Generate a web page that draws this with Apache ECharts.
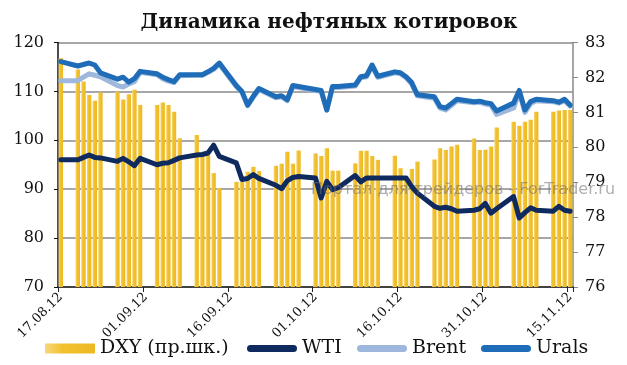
<!DOCTYPE html>
<html><head><meta charset="utf-8">
<script src="https://cdn.jsdelivr.net/npm/echarts@6/dist/echarts.min.js"></script>
<style>html,body{margin:0;padding:0;background:#fff}#c{width:627px;height:365px}</style>
</head><body><div id="c"></div>
<script>
// calendar days 17.08.12 .. 15.11.12 (weekends have no values)
var dates = ["17.08.12","18.08.12","19.08.12","20.08.12","21.08.12","22.08.12","23.08.12","24.08.12","25.08.12","26.08.12",
"27.08.12","28.08.12","29.08.12","30.08.12","31.08.12","01.09.12","02.09.12","03.09.12","04.09.12","05.09.12",
"06.09.12","07.09.12","08.09.12","09.09.12","10.09.12","11.09.12","12.09.12","13.09.12","14.09.12","15.09.12",
"16.09.12","17.09.12","18.09.12","19.09.12","20.09.12","21.09.12","22.09.12","23.09.12","24.09.12","25.09.12",
"26.09.12","27.09.12","28.09.12","29.09.12","30.09.12","01.10.12","02.10.12","03.10.12","04.10.12","05.10.12",
"06.10.12","07.10.12","08.10.12","09.10.12","10.10.12","11.10.12","12.10.12","13.10.12","14.10.12","15.10.12",
"16.10.12","17.10.12","18.10.12","19.10.12","20.10.12","21.10.12","22.10.12","23.10.12","24.10.12","25.10.12",
"26.10.12","27.10.12","28.10.12","29.10.12","30.10.12","31.10.12","01.11.12","02.11.12","03.11.12","04.11.12",
"05.11.12","06.11.12","07.11.12","08.11.12","09.11.12","10.11.12","11.11.12","12.11.12","13.11.12","14.11.12",
"15.11.12"];
var _ = null;
var dxy = [82.55,_,_,82.23,81.88,81.50,81.33,81.57,_,_,
81.59,81.37,81.52,81.65,81.21,_,_,81.21,81.28,81.21,
81.02,80.26,_,_,80.35,79.73,79.78,79.26,78.83,_,
_,79.01,79.01,79.30,79.44,79.32,_,_,79.47,79.53,
79.87,79.53,79.91,_,_,79.82,79.75,79.97,79.33,79.33,
_,_,79.54,79.90,79.90,79.75,79.64,_,_,79.76,
79.40,79.10,79.38,79.59,_,_,79.65,79.97,79.92,80.02,
80.07,_,_,80.25,79.92,79.93,80.02,80.57,_,_,
80.73,80.62,80.73,80.79,81.02,_,_,81.02,81.05,81.07,
81.07];
var wti = [96.0,_,_,96.0,96.5,97.0,96.5,96.4,_,_,
95.7,96.3,95.6,94.8,96.3,_,_,95.0,95.3,95.4,
95.9,96.4,_,_,97.0,97.1,97.4,99.0,96.7,_,
_,95.4,92.0,92.2,93.0,92.2,_,_,90.8,90.1,
91.7,92.4,92.6,_,_,92.3,88.2,91.6,89.9,90.3,
_,_,92.8,91.5,92.3,92.3,92.3,_,_,92.3,
92.3,92.3,90.5,89.2,_,_,86.5,86.1,86.3,86.0,
85.5,_,_,85.7,86.0,87.1,85.1,86.0,_,_,
88.5,84.1,85.2,86.2,85.7,_,_,85.5,86.5,85.7,
85.5];
var brent = [112.2,_,_,112.2,112.9,113.6,113.3,113.0,_,_,
111.2,110.9,111.5,112.0,113.9,_,_,113.4,112.6,112.1,
111.8,113.2,_,_,113.3,113.3,113.9,114.5,115.6,_,
_,111.0,109.8,107.1,108.8,110.4,_,_,108.7,108.9,
108.1,111.0,110.8,_,_,110.2,110.0,106.2,110.8,110.8,
_,_,111.1,112.8,113.0,115.1,112.9,_,_,113.8,
113.6,112.8,111.5,109.1,_,_,108.6,106.6,106.2,107.1,
108.1,_,_,107.7,107.8,107.4,107.2,105.3,_,_,
106.6,109.8,105.7,107.5,108.1,_,_,107.9,107.6,108.1,
107.0];
var urals = [116.1,_,_,115.2,115.5,115.8,115.4,113.8,_,_,
112.5,112.9,111.9,112.6,114.1,_,_,113.6,112.9,112.4,
112.0,113.4,_,_,113.4,113.4,114.0,114.7,115.8,_,
_,111.2,110.0,107.2,109.0,110.6,_,_,108.9,109.1,
108.3,111.2,111.0,_,_,110.4,110.2,106.2,111.0,111.0,
_,_,111.3,113.0,113.2,115.4,113.1,_,_,114.0,
113.8,113.0,111.8,109.3,_,_,108.9,106.9,106.6,107.5,
108.4,_,_,107.9,108.0,107.7,107.5,106.0,_,_,
107.6,110.2,106.2,107.9,108.4,_,_,108.1,107.8,108.4,
107.2];
var names = ["DXY (пр.шк.)","WTI","Brent","Urals"];
var titleText = "Динамика нефтяных котировок";
var watermark = "Портал для трейдеров - ForTrader.ru";

var serif = "DejaVu Serif";
var lineIcon = 'path://M3.5,0 L46.5,0 A3.5,3.5 0 0 1 46.5,7 L3.5,7 A3.5,3.5 0 0 1 3.5,0 Z';
var chart = echarts.init(document.getElementById('c'), null, {renderer:'canvas'});
function lineSeries(name, data, color, z){
  return {name:name, type:'line', data:data, yAxisIndex:0, connectNulls:true, showSymbol:false, symbol:'none',
    z:z, lineStyle:{color:color, width:5, cap:'round', join:'round'}, itemStyle:{color:color}, animation:false};
}
function legend(left, name, icon){
  return {left:left, top:339, itemWidth:50, itemHeight:10, padding:0, itemGap:0,
    textStyle:{fontFamily:serif, fontSize:19, color:'#111'},
    data:[{name:name, icon:icon}]};
}
chart.setOption({
  animation:false,
  title:{text:titleText, left:324, textAlign:'center', top:8,
    textStyle:{fontFamily:serif, fontWeight:'bold', fontSize:20, color:'#111'}},
  grid:{left:58, right:54, top:42.5, bottom:78},
  legend:[legend(45, names[0], 'rect'), legend(247, names[1], lineIcon), legend(357, names[2], lineIcon), legend(481, names[3], lineIcon)],
  xAxis:{type:'category', data:dates, boundaryGap:true,
    axisLine:{lineStyle:{color:'#222', width:1.5}},
    axisTick:{show:true, alignWithLabel:false, length:5, lineStyle:{color:'#222'}, interval:function(i){return i%15===0;}},
    axisLabel:{interval:function(i){return i%15===0;}, rotate:45, fontFamily:serif, fontSize:13, color:'#111', margin:8}},
  yAxis:[
    {type:'value', min:70, max:120, interval:10, position:'left',
      axisLine:{show:true, lineStyle:{color:'#111', width:1.5}},
      axisTick:{show:true, length:4, lineStyle:{color:'#111'}},
      splitLine:{show:true, lineStyle:{color:'#8a8a8a', width:1.5}},
      axisLabel:{fontFamily:serif, fontSize:16, color:'#111', margin:14}},
    {type:'value', min:76, max:83, interval:1, position:'right',
      axisLine:{show:true, lineStyle:{color:'#8a8a8a', width:1.5}},
      axisTick:{show:true, length:5, lineStyle:{color:'#8a8a8a'}},
      splitLine:{show:false},
      axisLabel:{fontFamily:serif, fontSize:16, color:'#111', margin:12}}
  ],
  series:[
    {name:names[0], type:'bar', data:dxy, yAxisIndex:1, barWidth:'78%', z:1,
      itemStyle:{color:{type:'linear', x:0, y:0, x2:1, y2:0,
        colorStops:[{offset:0,color:'#F8D77A'},{offset:0.35,color:'#F2C12E'},{offset:1,color:'#EDB923'}]}}},
    lineSeries(names[1], wti, '#0F2A5E', 2),
    lineSeries(names[2], brent, '#9DB8DC', 3),
    lineSeries(names[3], urals, '#1F6DB8', 4)
  ],
  graphic:[{type:'text', left:311, top:182, z:100, silent:true,
    style:{text:watermark, font:'16px "DejaVu Sans"', fill:'rgba(110,110,110,0.55)'}}]
});
</script></body></html>
